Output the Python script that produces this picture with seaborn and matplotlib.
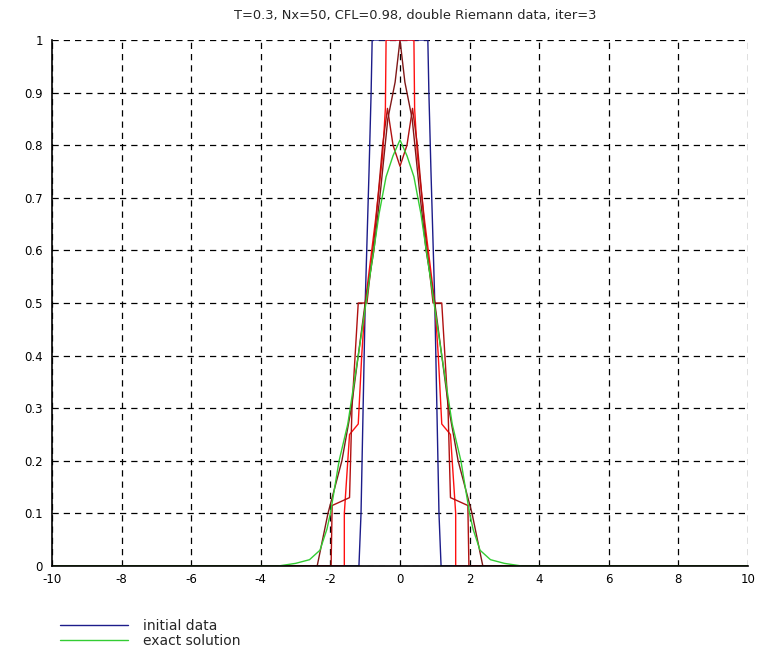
import matplotlib
matplotlib.use("Agg")
import matplotlib.pyplot as plt
import seaborn as sns
import numpy as np

title = "T=0.3, Nx=50, CFL=0.98, double Riemann data, iter=3"

# initial data (blue)
x_init = [-10, -1.18, -1.12, -1.0, -0.89, -0.83, -0.8, 0.8, 0.83, 0.89, 1.0, 1.12, 1.18, 10]
y_init = [0, 0, 0.1, 0.5, 0.75, 0.9, 1.0, 1.0, 0.9, 0.75, 0.5, 0.1, 0, 0]

# numerical solutions (reds)
x_num1 = [-10, -1.6, -1.6, -1.5, -1.45, -1.2, -1.1, -1.0, -0.85, -0.7, -0.5, -0.42, -0.4,
          0.4, 0.42, 0.5, 0.7, 0.85, 1.0, 1.1, 1.2, 1.45, 1.5, 1.6, 1.6, 10]
y_num1 = [0, 0, 0.1, 0.2, 0.25, 0.27, 0.4, 0.5, 0.58, 0.66, 0.78, 0.87, 1.0,
          1.0, 0.87, 0.78, 0.66, 0.58, 0.5, 0.4, 0.27, 0.25, 0.2, 0.1, 0, 0]

x_num2 = [-10, -1.98, -1.95, -1.45, -1.38, -1.2, -0.95, -0.7, -0.5, -0.36, -0.2, 0,
          0.2, 0.36, 0.5, 0.7, 0.95, 1.2, 1.38, 1.45, 1.95, 1.98, 10]
y_num2 = [0, 0, 0.115, 0.13, 0.3, 0.5, 0.5, 0.65, 0.8, 0.87, 0.8, 0.76,
          0.8, 0.87, 0.8, 0.65, 0.5, 0.5, 0.3, 0.13, 0.115, 0, 0]

x_num3 = [-10, -2.38, -2.07, -1.67, -1.4, -1.2, -1.0, -0.75, -0.55, -0.35, -0.14, 0,
          0.14, 0.35, 0.55, 0.75, 1.0, 1.2, 1.4, 1.67, 2.07, 2.38, 10]
y_num3 = [0, 0, 0.1, 0.2, 0.3, 0.4, 0.5, 0.6, 0.72, 0.85, 0.92, 1.0,
          0.92, 0.85, 0.72, 0.6, 0.5, 0.4, 0.3, 0.2, 0.1, 0, 0]

# exact solution (green)
x_exact = [-10, -3.5, -3.0, -2.6, -2.3, -2.1, -2.0, -1.75, -1.5, -1.2, -1.0, -0.8, -0.6, -0.4, -0.2, 0,
           0.2, 0.4, 0.6, 0.8, 1.0, 1.2, 1.5, 1.75, 2.0, 2.1, 2.3, 2.6, 3.0, 3.5, 10]
y_exact = [0, 0, 0.005, 0.012, 0.03, 0.07, 0.1, 0.2, 0.27, 0.4, 0.49, 0.58, 0.67, 0.74, 0.78, 0.81,
           0.78, 0.74, 0.67, 0.58, 0.49, 0.4, 0.27, 0.2, 0.1, 0.07, 0.03, 0.012, 0.005, 0, 0]

sns.set_style("white")
plt.rcParams['font.family'] = ['DejaVu Sans']

fig = plt.figure(figsize=(7.6, 6.53), dpi=100)
ax = fig.add_axes([52/760, 1-566/653, 696/760, 526/653])

ax.grid(True, color='black', linestyle=(0, (5, 4)), linewidth=0.9)
ax.set_axisbelow(True)

kw = dict(sort=False, estimator=None, linewidth=1, ax=ax)
sns.lineplot(x=x_init, y=y_init, color='#1c1c8a', label='initial data', **kw)
sns.lineplot(x=x_num1, y=y_num1, color='#ff1010', legend=False, **kw)
sns.lineplot(x=x_num2, y=y_num2, color='#b01010', legend=False, **kw)
sns.lineplot(x=x_num3, y=y_num3, color='#801818', legend=False, **kw)
sns.lineplot(x=x_exact, y=y_exact, color='#33cc33', label='exact solution', **kw)

ax.set_xlim(-10, 10)
ax.set_ylim(0, 1)
ax.set_xticks(np.arange(-10, 11, 2))
ax.set_xticks(np.arange(-9, 10, 2), minor=True)
ax.set_yticks(np.arange(0, 1.01, 0.1))
ax.set_xticklabels([str(v) for v in range(-10, 11, 2)])
ax.set_yticklabels(['0', '0.1', '0.2', '0.3', '0.4', '0.5', '0.6', '0.7', '0.8', '0.9', '1'])
ax.tick_params(axis='both', which='major', labelsize=8.5, direction='inout', length=6, width=1, colors='black')
ax.tick_params(axis='x', which='minor', direction='in', length=3, width=1)
ax.tick_params(axis='x', pad=2)
for s in ['top', 'right']:
    ax.spines[s].set_visible(False)
for s in ['left', 'bottom']:
    ax.spines[s].set_color('black')
    ax.spines[s].set_linewidth(1.2)
ax.set_xlabel('')
ax.set_ylabel('')
ax.set_title(title, fontsize=9.4, pad=15, x=0.522)

ax.legend_.remove()
handles, labels = ax.get_legend_handles_labels()
fig.legend(handles, labels, loc='upper left', bbox_to_anchor=(47/760, 1-606/653), frameon=False,
           fontsize=10, handlelength=4.9, handletextpad=1.1, labelspacing=0.1)

fig.savefig('out.png', dpi=100, facecolor='white')
